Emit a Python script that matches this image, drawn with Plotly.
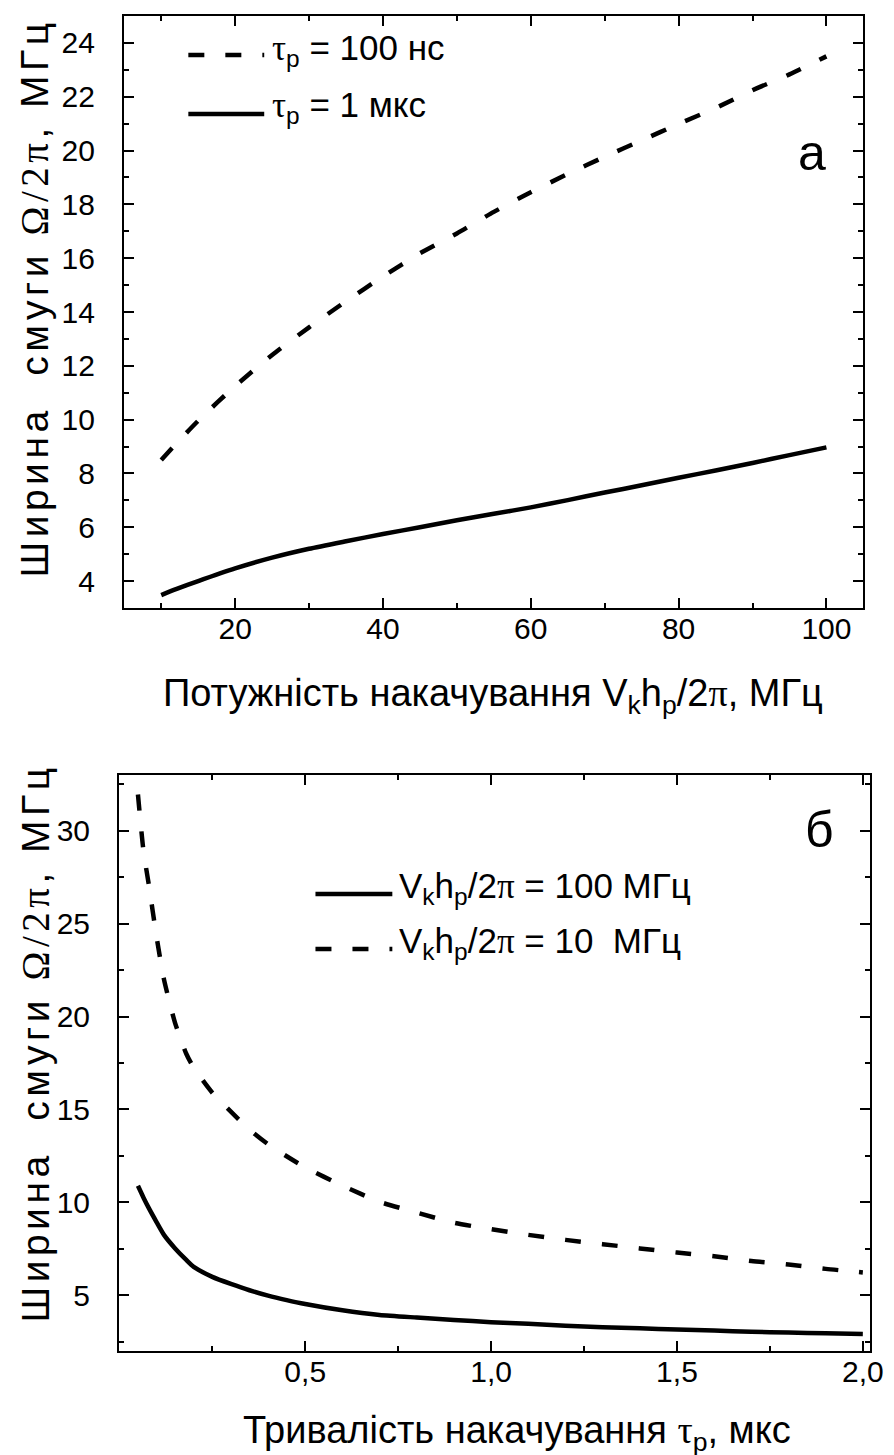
import plotly.graph_objects as go

# ---- data (panel a) ----
pump_power = [10, 12, 15, 20, 25, 30, 35, 40, 45, 50, 55, 60, 65, 70, 75, 80, 85, 90, 95, 100]
width_tau100ns = [8.5, 9.1, 9.96, 11.25, 12.4, 13.43, 14.4, 15.32, 16.18, 16.92, 17.72, 18.45,
                  19.13, 19.77, 20.38, 20.99, 21.58, 22.24, 22.83, 23.5]
width_tau1us = [3.48, 3.7, 4.0, 4.47, 4.87, 5.2, 5.48, 5.75, 6.0, 6.26, 6.5, 6.74,
                7.01, 7.29, 7.56, 7.84, 8.11, 8.39, 8.68, 8.97]

# ---- data (panel б) ----
pump_duration = [0.05, 0.065, 0.08, 0.1, 0.12, 0.15, 0.18, 0.2, 0.25, 0.3, 0.35, 0.4, 0.45, 0.5,
                 0.6, 0.7, 0.8, 0.9, 1.0, 1.1, 1.2, 1.3, 1.4, 1.5, 1.6, 1.7, 1.8, 1.9, 2.0]
width_100MHz = [10.89, 10.25, 9.66, 8.94, 8.25, 7.52, 6.9, 6.53, 5.99, 5.61, 5.27, 4.98, 4.74, 4.53,
                4.19, 3.94, 3.8, 3.67, 3.55, 3.46, 3.36, 3.28, 3.22, 3.16, 3.1, 3.04, 2.99, 2.95, 2.92]
width_10MHz = [31.95, 28.9, 27.0, 24.3, 22.0, 19.65, 18.0, 17.25, 15.9, 14.88, 13.92, 13.13, 12.48, 11.88,
               10.9, 10.03, 9.45, 8.9, 8.56, 8.25, 7.98, 7.75, 7.52, 7.3, 7.1, 6.84, 6.66, 6.42, 6.23]

x_ticks_a = [20, 40, 60, 80, 100]
x_ticks_b = [0.5, 1.0, 1.5, 2.0]
x_ticktext_b = ["0,5", "1,0", "1,5", "2,0"]

W, H = 894, 1455
FONT = "Liberation Sans"
SERIF = "Liberation Serif"
DASH = "16px,21px"
LW = 4.5


def px(x):
    return x / W


def py(y):
    return 1 - y / H


fig = go.Figure()
fig.add_trace(go.Scatter(x=pump_power, y=width_tau100ns, mode="lines", xaxis="x", yaxis="y",
                         line=dict(color="black", width=LW, dash=DASH, shape="spline", smoothing=0.6),
                         showlegend=False))
fig.add_trace(go.Scatter(x=pump_power, y=width_tau1us, mode="lines", xaxis="x", yaxis="y",
                         line=dict(color="black", width=LW, shape="spline", smoothing=0.6),
                         showlegend=False))
fig.add_trace(go.Scatter(x=pump_duration, y=width_100MHz, mode="lines", xaxis="x2", yaxis="y2",
                         line=dict(color="black", width=LW, shape="spline", smoothing=0.6),
                         showlegend=False))
fig.add_trace(go.Scatter(x=pump_duration, y=width_10MHz, mode="lines", xaxis="x2", yaxis="y2",
                         line=dict(color="black", width=LW, dash=DASH, shape="spline", smoothing=0.6),
                         showlegend=False))

axis_common = dict(showline=True, linecolor="black", linewidth=2, mirror="ticks",
                   ticks="inside", ticklen=10, tickwidth=2, tickcolor="black",
                   showgrid=False, zeroline=False,
                   tickfont=dict(family=FONT, size=30, color="black"))
minor_common = dict(ticks="inside", ticklen=5, tickwidth=2, tickcolor="black")

fig.update_layout(
    width=W, height=H,
    margin=dict(l=0, r=0, t=0, b=0),
    paper_bgcolor="white", plot_bgcolor="white",
    separators=", ",
    font=dict(family=FONT, color="black"),
    xaxis=dict(domain=[px(118), px(868)], anchor="y", range=[5, 105],
               tickvals=x_ticks_a, ticklabelstandoff=-7,
               minor=dict(dtick=10, tick0=0, **minor_common),
               **axis_common),
    yaxis=dict(domain=[py(600), py(8)], anchor="x", range=[3, 25], dtick=2, tick0=0,
               ticklabelstandoff=13, ticksuffix="\u00a0",
               minor=dict(dtick=1, tick0=0, **minor_common),
               **axis_common),
    xaxis2=dict(domain=[px(113), px(875)], anchor="y2", range=[0, 2.02],
                tickvals=x_ticks_b, ticktext=x_ticktext_b, ticklabelstandoff=-7,
                minor=dict(tickvals=[0, 0.25, 0.75, 1.25, 1.75], **minor_common),
                **axis_common),
    yaxis2=dict(domain=[py(1343), py(767)], anchor="x2", range=[2, 33], dtick=5, tick0=0,
                ticklabelstandoff=13, ticksuffix="\u00a0",
                minor=dict(dtick=2.5, tick0=0, **minor_common),
                **axis_common),
)

ytitle = ("<span style=\"letter-spacing:4.5px\">Ширина  смуги "
          "<span style=\"font-family:'%s'\">Ω/2π</span>, МГц</span>" % SERIF)
annotations = [
    dict(text=ytitle, x=px(27), y=py(290), textangle=-90, size=39),
    dict(text=ytitle, x=px(27), y=py(1035), textangle=-90, size=39),
    dict(text="Потужність накачування V<sub>k</sub>h<sub>p</sub>/2<span style=\"font-family:'%s'\">π</span>, МГц" % SERIF,
         x=px(492), y=py(688), size=38),
    dict(text="Тривалість накачування <span style=\"font-family:'%s'\">τ</span><sub>p</sub>, мкс" % SERIF,
         x=px(517), y=py(1425), size=38),
    dict(text="a", x=px(816), y=py(145), size=50),
    dict(text="б", x=px(823), y=py(822), size=50),
    # legend texts
    dict(text="<span style=\"font-family:'%s'\">τ</span><sub>p</sub> = 100 нс" % SERIF,
         x=px(266), y=py(42), xanchor="left", size=35),
    dict(text="<span style=\"font-family:'%s'\">τ</span><sub>p</sub> = 1 мкс" % SERIF,
         x=px(266), y=py(99), xanchor="left", size=35),
    dict(text="V<sub>k</sub>h<sub>p</sub>/2<span style=\"font-family:'%s'\">π</span> = 100 МГц" % SERIF,
         x=px(395), y=py(880), xanchor="left", size=35),
    dict(text="V<sub>k</sub>h<sub>p</sub>/2<span style=\"font-family:'%s'\">π</span> = 10  МГц" % SERIF,
         x=px(395), y=py(935), xanchor="left", size=35),
]
for a in annotations:
    fig.add_annotation(
        text=a["text"], x=a["x"], y=a["y"], xref="paper", yref="paper",
        xanchor=a.get("xanchor", "center"), yanchor="middle",
        textangle=a.get("textangle", 0), showarrow=False,
        font=dict(family=FONT, size=a.get("size", 30), color="black"))

# legend samples (paper coordinates)
legend_lines = [
    (183, 260, 47, DASH), (183, 260, 106, None),
    (312, 390, 886, None), (312, 390, 941, DASH),
]
for x0, x1, yy, dash in legend_lines:
    fig.add_shape(type="line", xref="paper", yref="paper", x0=px(x0), x1=px(x1), y0=py(yy), y1=py(yy),
                  line=dict(color="black", width=LW, dash=dash if dash else "solid"))

fig.write_html("out.html")
